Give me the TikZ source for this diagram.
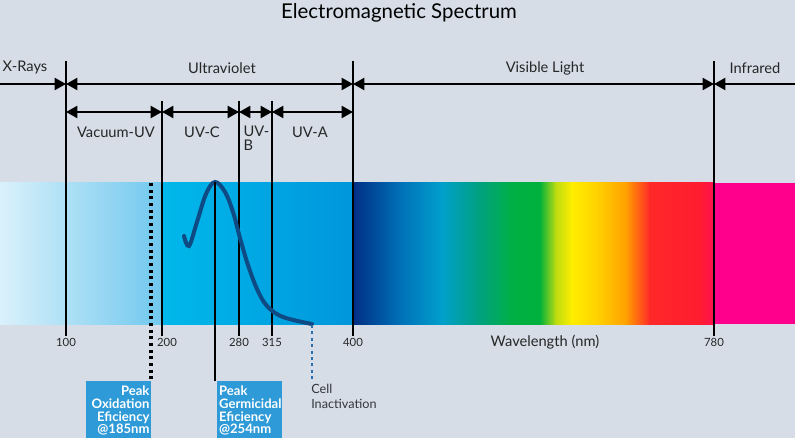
\documentclass[tikz,border=0pt]{standalone}
\usepackage{fontspec}
\setmainfont{Lato}
\usetikzlibrary{arrows.meta}
\definecolor{panel}{RGB}{214,221,231}
\definecolor{boxblue}{RGB}{46,154,216}
\definecolor{curveblue}{RGB}{14,74,132}
\definecolor{dotblue}{RGB}{40,110,176}
\definecolor{cellgrey}{RGB}{50,55,60}
% band colours, left to right
\definecolor{vaca}{RGB}{218,241,251}
\definecolor{vacb}{RGB}{112,200,238}
\definecolor{uvca}{RGB}{0,184,234}
\definecolor{uvcb}{RGB}{0,150,220}
\definecolor{visa}{RGB}{0,46,132}
\definecolor{visb}{RGB}{0,112,184}
\definecolor{visc}{RGB}{0,160,204}
\definecolor{visd}{RGB}{0,160,130}
\definecolor{vise}{RGB}{0,176,68}
\definecolor{visf}{RGB}{0,178,60}
\definecolor{visg}{RGB}{190,220,16}
\definecolor{vish}{RGB}{255,238,0}
\definecolor{visi}{RGB}{255,208,0}
\definecolor{visj}{RGB}{255,160,0}
\definecolor{visk}{RGB}{255,40,40}
\definecolor{visl}{RGB}{255,28,48}
\definecolor{vism}{RGB}{255,16,80}
\definecolor{irmag}{RGB}{255,0,140}

\begin{document}
\begin{tikzpicture}[x=0.75pt,y=-0.75pt]
\tikzset{
  rt/.tip={Triangle[length=8.5pt,width=9pt]},
  lbl/.style={font=\fontsize{11}{13}\selectfont, text=black!85, inner sep=1pt},
  ticklbl/.style={font=\fontsize{8.5}{10}\selectfont, text=black!85, inner sep=1pt},
  infobox/.style={fill=boxblue, text=white, font=\bfseries\fontsize{9.8}{9.6}\selectfont,
    text width=46pt, inner xsep=1.4pt, inner ysep=3pt, minimum height=44pt},
  rng/.style={line width=1.5pt},
  divider/.style={line width=1.7pt},
}
\useasboundingbox (0,0) rectangle (795,438);
\fill[panel] (0,0) rectangle (795,438);

% the spectrum band
\foreach \xa/\ca/\xb/\cb in {0/vaca/162/vacb, 162/uvca/353/uvcb,
    353/visa/400/visb, 400/visb/442/visc, 442/visc/478/visd, 478/visd/512/vise,
    512/vise/540/visf, 540/visf/556/visg, 556/visg/572/vish, 572/vish/598/visi,
    598/visi/626/visj, 626/visj/650/visk, 650/visk/700/visl, 700/visl/714/vism}
  \shade[left color=\ca, right color=\cb] (\xa-0.3,183) rectangle (\xb+0.3,324);
\fill[irmag] (714,183) rectangle (795,324);

\node (title) at (399,13) {\fontsize{15.3}{17}\selectfont Electromagnetic Spectrum};

% bottom scale
\begin{scope}[every node/.style={ticklbl}]
  \node (n100) at (66,342) {100};
  \node (n200) at (167,342) {200};
  \node (n280) at (239,342) {280};
  \node (n315) at (272,342) {315};
  \node (n400) at (353,342) {400};
  \node (n780) at (714,342) {780};
\end{scope}
\node[lbl] (wave) at (545,342) {Wavelength (nm)};

\coordinate (t100) at (66,61);
\coordinate (t200) at (162,101);
\coordinate (t280) at (239,101);
\coordinate (t315) at (272,101);
\coordinate (t400) at (353,61);
\coordinate (t780) at (714,61);

\draw[divider] (t100) -- (t100 |- n100.north);
\draw[divider] (t200) -- (t200 |- n200.north);
\draw[divider] (t280) -- (t280 |- n280.north);
\draw[divider] (t315) -- (t315 |- n315.north);
\draw[divider] (t400) -- (t400 |- n400.north);
\draw[divider] (t780) -- (t780 |- n780.north);

% upper row of ranges
\coordinate (lft) at (0,84);
\coordinate (rgt) at (795,84);
\begin{scope}[every node/.style={lbl}]
  \node (xray) at (25,68) {X-Rays};
  \node (uv) at (222,68) {Ultraviolet};
  \node (vis) at (545,68) {Visible Light};
  \node (ir) at (755,68) {Infrared};
  \node (vac) at (116,132) {Vacuum-UV};
  \node (uvc) at (202,132) {UV-C};
  \node[align=left, anchor=north west] (uvb) at (242,124) {UV-\\[-2pt]B};
  \node (uva) at (310,132) {UV-A};
\end{scope}
\draw[rng, -{rt}] (lft) -- (t100 |- lft);
\draw[rng, {rt}-{rt}] (t100 |- lft) -- (t400 |- lft);
\draw[rng, {rt}-{rt}] (t400 |- lft) -- (t780 |- lft);
\draw[rng, {rt}-] (t780 |- rgt) -- (rgt);

% lower row of ranges
\coordinate (row) at (0,112);
\draw[rng, {rt}-{rt}] (t100 |- row) -- (t200 |- row);
\draw[rng, {rt}-{rt}] (t200 |- row) -- (t280 |- row);
\draw[rng, {rt}-{rt}] (t280 |- row) -- (t315 |- row);
\draw[rng, {rt}-{rt}] (t315 |- row) -- (t400 |- row);

% germicidal curve
\draw[curveblue, line width=3pt, line cap=round] plot[smooth, tension=0.6] coordinates {
  (184,236) (189,246) (197,222) (206,194) (215,182) (225,192) (233,212) (240,238)
  (248,265) (257,289) (267,306) (283,317) (312,324)};
\coordinate (peak) at (215,182);
\coordinate (tail) at (312,325);
\coordinate (ox) at (151,183);

% call-outs
\node[infobox, align=right, anchor=north west] (oxid) at (86,381)
  {Peak\\Oxidation\\Eficiency\\@185nm};
\node[infobox, align=left, anchor=north west] (germ) at (217,381)
  {Peak\\Germicidal\\Eficiency\\@254nm};
\node[font=\fontsize{9.5}{11}\selectfont, text=cellgrey, align=left, anchor=north west, inner sep=0pt]
  (cell) at (311,384) {Cell\\Inactivation};

\draw[line width=2.5pt, dash pattern=on 2.2pt off 2.8pt] (ox) -- (ox |- oxid.north);
\draw[line width=1.5pt] (peak) -- (peak |- germ.north);
\draw[dotblue, line width=2.2pt, dash pattern=on 2.2pt off 2.6pt] (tail) -- ([yshift=3pt]tail |- cell.north);
\end{tikzpicture}
\end{document}
